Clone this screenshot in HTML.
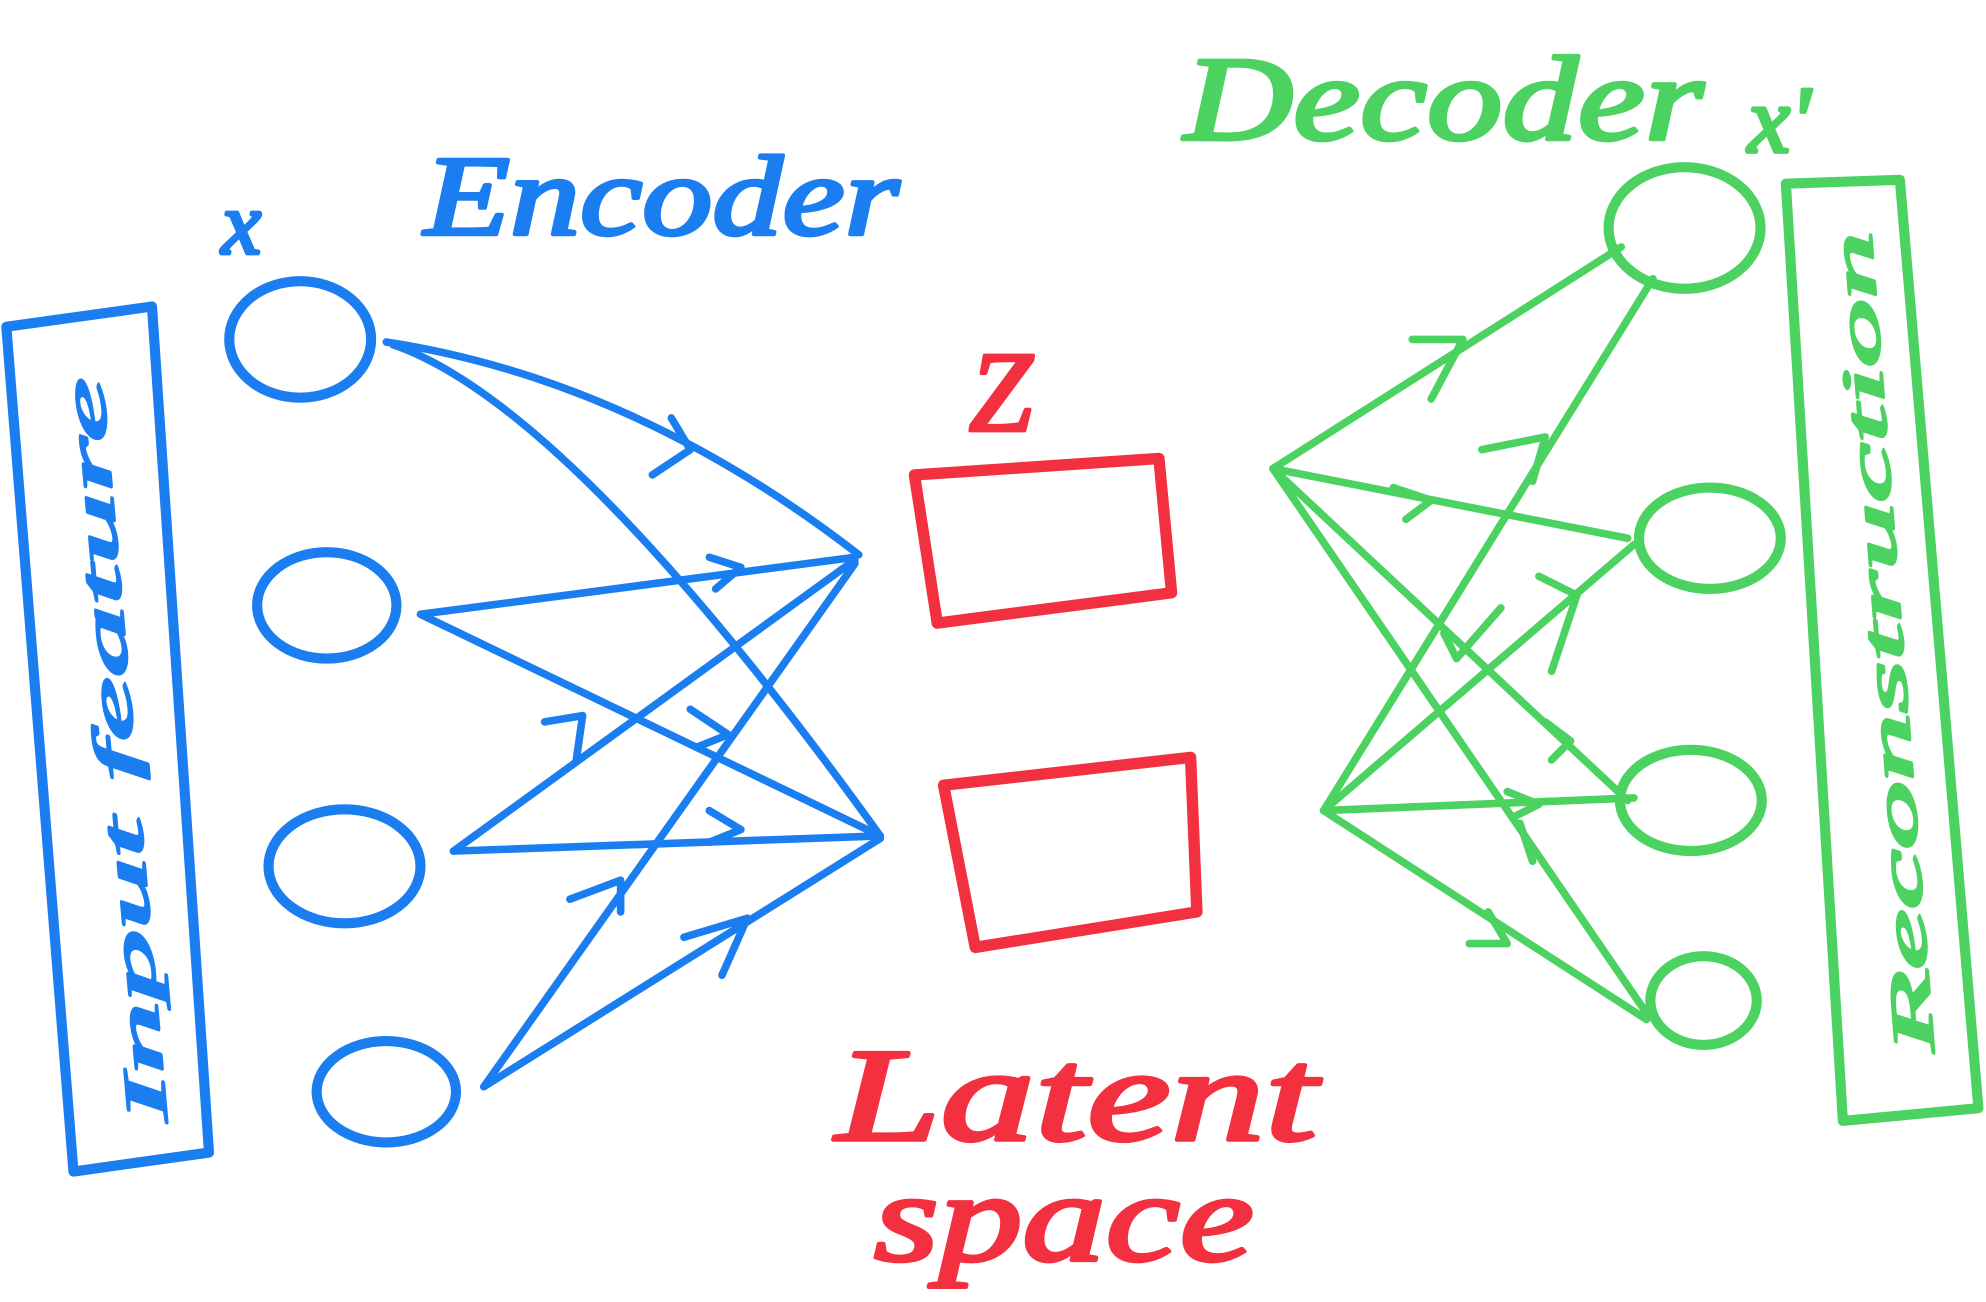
<!DOCTYPE html>
<html><head><meta charset="utf-8"><style>
html,body{margin:0;padding:0;background:#fff;}
svg{display:block;}
text{font-family:"Liberation Serif",serif;font-style:italic;}
</style></head><body>
<svg width="1986" height="1302" viewBox="0 0 1568 1028" preserveAspectRatio="none" xmlns="http://www.w3.org/2000/svg">
<g fill="none" stroke-linecap="round" stroke-linejoin="round">
<!-- BLUE -->
<g stroke="#1a7ef0">
<path d="M5,258 L120,242 L165,910 L58,925 Z" stroke-width="8"/>
<ellipse cx="237" cy="268" rx="56" ry="46" stroke-width="8"/>
<ellipse cx="258" cy="478" rx="55" ry="42" stroke-width="8"/>
<ellipse cx="272" cy="684" rx="60" ry="45" stroke-width="8"/>
<ellipse cx="305" cy="862" rx="55" ry="40" stroke-width="8"/>
<g stroke-width="6">
<path d="M305,270 Q500,300 678,438"/>
<path d="M310,272 Q450,320 695,660"/>
<path d="M332,485 L675,440"/>
<path d="M332,485 L695,660"/>
<path d="M358,672 L675,442"/>
<path d="M358,672 L695,660"/>
<path d="M382,858 L675,445"/>
<path d="M382,858 L695,662"/>
<path d="M515,375 L545,355 L530,330"/>
<path d="M560,440 L585,448 L565,465"/>
<path d="M545,560 L575,580 L550,590"/>
<path d="M430,570 L460,565 L455,600"/>
<path d="M560,640 L585,655 L560,665"/>
<path d="M450,710 L490,695 L490,720"/>
<path d="M540,740 L590,725 L570,770"/>
</g>
<text transform="translate(132,885) rotate(-95)" x="0" y="0" font-size="46" fill="#1a7ef0" stroke="#1a7ef0" stroke-width="2" textLength="590" lengthAdjust="spacingAndGlyphs">Input feature</text>
<text x="175" y="200" font-size="70" fill="#1a7ef0" stroke="#1a7ef0" stroke-width="3">x</text>
<text x="335" y="185" font-size="90" fill="#1a7ef0" stroke="#1a7ef0" stroke-width="3" textLength="375" lengthAdjust="spacingAndGlyphs">Encoder</text>
</g>
<!-- RED -->
<g stroke="#f2303f">
<path d="M722,375 L915,362 L925,468 L740,492 Z" stroke-width="9"/>
<path d="M745,620 L940,598 L945,720 L770,748 Z" stroke-width="9"/>
<text x="765" y="340" font-size="90" fill="#f2303f" stroke="#f2303f" stroke-width="3">Z</text>
<text x="660" y="900" font-size="105" fill="#f2303f" stroke="#f2303f" stroke-width="3" textLength="380" lengthAdjust="spacingAndGlyphs">Latent</text>
<text x="690" y="995" font-size="100" fill="#f2303f" stroke="#f2303f" stroke-width="3" textLength="300" lengthAdjust="spacingAndGlyphs">space</text>
</g>
<!-- GREEN -->
<g stroke="#4cd261">
<path d="M1410,145 L1500,142 L1562,875 L1455,885 Z" stroke-width="8"/>
<ellipse cx="1330" cy="180" rx="60" ry="48" stroke-width="8"/>
<ellipse cx="1350" cy="425" rx="56" ry="40" stroke-width="8"/>
<ellipse cx="1335" cy="632" rx="56" ry="40" stroke-width="8"/>
<ellipse cx="1345" cy="790" rx="42" ry="35" stroke-width="8"/>
<g stroke-width="6">
<path d="M1005,370 L1280,195"/>
<path d="M1005,370 L1285,425"/>
<path d="M1005,370 L1285,632"/>
<path d="M1005,370 L1300,800"/>
<path d="M1045,640 L1305,220"/>
<path d="M1045,640 L1290,430"/>
<path d="M1045,640 L1290,630"/>
<path d="M1045,640 L1300,805"/>
<path d="M1115,268 L1155,268 L1130,315"/>
<path d="M1170,355 L1220,345 L1210,380"/>
<path d="M1100,385 L1130,395 L1110,410"/>
<path d="M1215,455 L1245,470 L1225,530"/>
<path d="M1140,500 L1150,520 L1185,480"/>
<path d="M1220,570 L1240,585 L1225,600"/>
<path d="M1190,625 L1215,635 L1195,645"/>
<path d="M1200,650 L1210,680"/>
<path d="M1160,745 L1190,745 L1175,720"/>
</g>
<text transform="translate(1527,830) rotate(-94.4)" x="0" y="0" font-size="46" fill="#4cd261" stroke="#4cd261" stroke-width="2" textLength="650" lengthAdjust="spacingAndGlyphs">Reconstruction</text>
<text x="935" y="110" font-size="95" fill="#4cd261" stroke="#4cd261" stroke-width="3" textLength="410" lengthAdjust="spacingAndGlyphs">Decoder</text>
<text x="1380" y="120" font-size="75" fill="#4cd261" stroke="#4cd261" stroke-width="3">x'</text>
</g>
</g>
</svg>
</body></html>
